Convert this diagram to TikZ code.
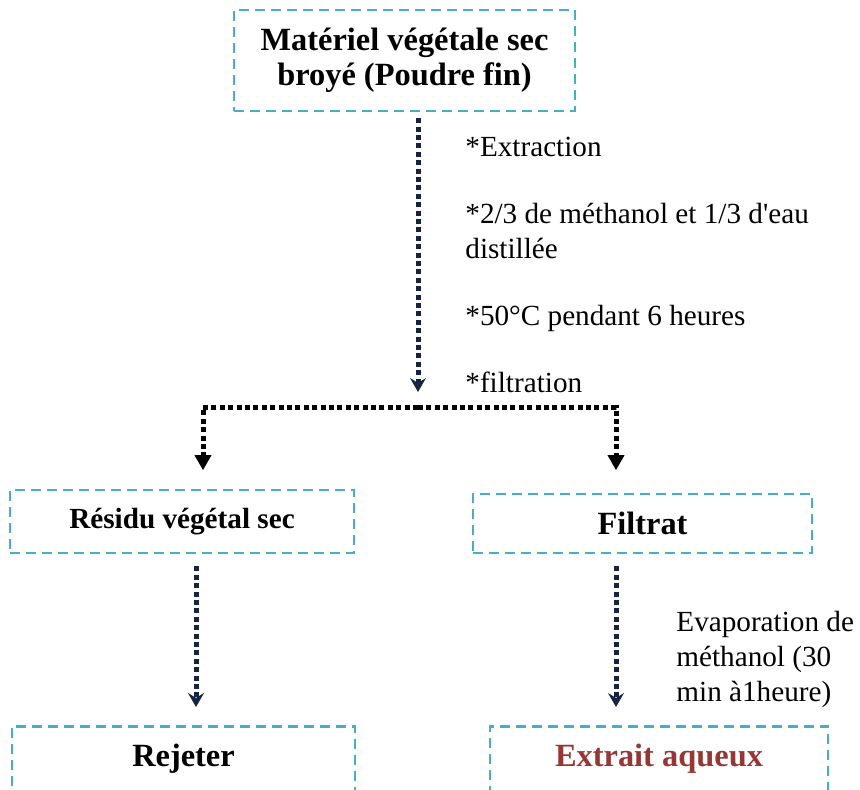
\documentclass[tikz,border=0pt]{standalone}
\usepackage{fontspec}
\setmainfont{Liberation Serif}
\usetikzlibrary{arrows.meta}
\definecolor{boxcyan}{RGB}{75,172,198}
\definecolor{navy}{RGB}{23,36,64}
\definecolor{darkred}{RGB}{149,55,53}

\begin{document}
\begin{tikzpicture}[
      x=0.5pt, y=-0.5pt,
      font=\fontsize{14.6}{17.5}\selectfont,
      box/.style={rectangle, draw=boxcyan, line width=1.3pt, dash pattern=on 5pt off 3pt, align=center, inner sep=0pt, font=\fontsize{16.2}{17.5}\selectfont\bfseries},
      note/.style={align=left, inner sep=0pt, anchor=north west},
      flow/.style={draw=navy, line width=2.5pt, dash pattern=on 2.5pt off 1.7pt, -{Stealth[length=7pt, width=8pt, inset=2.5pt, line width=0.5pt]}},
      branch/.style={draw=black, line width=2.5pt, dash pattern=on 2.5pt off 1.7pt, -{Triangle[length=7.5pt, width=8.5pt, line width=0.5pt]}}
    ]
      \useasboundingbox (0,0) rectangle (860,790);

      % Extraction
      \node[box, minimum width=170.5pt, minimum height=50.5pt] (vegetal) at (404.5,60.5) {Matériel végétale sec\\broyé (Poudre fin)};
      \node[note] (etapes) at (465,137) {*Extraction\\[16pt]*2/3 de méthanol et 1/3 d\textquotesingle eau\\distillée\\[16pt]*50°C pendant 6 heures\\[16pt]*filtration};

      \coordinate (fork) at (418,407);
      \coordinate (leftdrop) at (203,470);
      \coordinate (rightdrop) at (616,470);

      \draw[flow, shorten <=3pt, shorten >=7.5pt] (vegetal.south -| fork) -- (fork);
      \draw[branch] (fork) -| (leftdrop);
      \draw[branch] (fork) -| (rightdrop);

      % Filtration
      \node[box, minimum width=172pt, minimum height=31.5pt, font=\fontsize{14.6}{17.5}\selectfont\bfseries] (residu) at (182,521.5) {Résidu végétal sec};
      \node[box, minimum width=169.5pt, minimum height=29.5pt] (filtrat) at (642.5,523.5) {Filtrat};

      % Evaporation
      \node[box, minimum width=171.5pt, minimum height=40pt, anchor=north, text height=12pt, text depth=11.4pt] (rejeter) at (183.5,725) {Rejeter};
      \node[box, minimum width=169pt, minimum height=40pt, anchor=north, text height=12pt, text depth=11.4pt, text=darkred] (extrait) at (659,725) {Extrait aqueux};
      \node[note] (evap) at (676,611) {Evaporation de\\méthanol (30\\min à1heure)};

      \draw[flow, shorten <=6pt, shorten >=9pt] ([xshift=7pt]residu.south) -- ([xshift=7pt]residu.south |- rejeter.north);
      \draw[flow, shorten <=6pt, shorten >=9pt] ([xshift=-13.25pt]filtrat.south) -- ([xshift=-13.25pt]filtrat.south |- extrait.north);
    \end{tikzpicture}
\end{document}
